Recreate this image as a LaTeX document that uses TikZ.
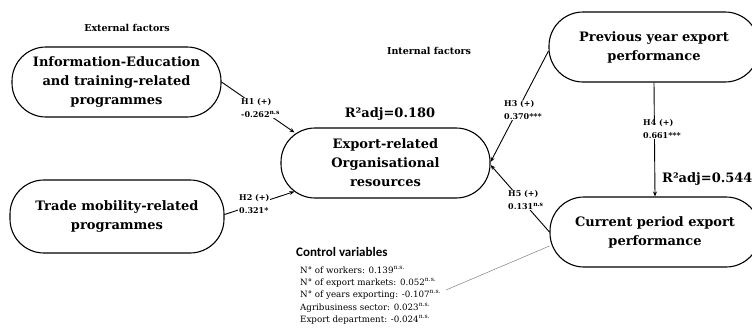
\documentclass[tikz,border=0pt]{standalone}
\usepackage{fontspec}
\setmainfont{DejaVu Serif}
\newfontfamily\ctrlfont{Carlito}
\usepackage{tikz}
\usetikzlibrary{arrows.meta, positioning, calc}

\tikzset{
  factor/.style={draw, line width=1.1pt, rounded corners=34pt, minimum width=209pt,
    minimum height=70pt, align=center, inner sep=0pt,
    font=\fontsize{13}{19}\selectfont\bfseries},
  hyp/.style={fill=white, inner sep=1pt, align=left, anchor=west,
    font=\fontsize{8}{12.5}\selectfont\bfseries},
  link/.style={line width=0.9pt, -{Stealth[length=5pt,width=4pt]}},
  ctrlitem/.style={anchor=west, inner sep=0pt, font=\fontsize{8.7}{10}\selectfont}
}

\begin{document}
\begin{tikzpicture}[x=1pt, y=-1pt]
  \useasboundingbox (0,0) rectangle (752,335);

  % constructs
  \node[factor] (info) at (116.5,82) {Information-Education\\and training-related\\programmes};
  \node[factor, minimum width=214pt, minimum height=73pt] (trade) at (117,216.5) {Trade mobility-related\\programmes};
  \node[factor] (exp) at (385.5,163) {Export-related\\Organisational\\resources};
  \node[factor, minimum width=210pt] (prev) at (654,47) {Previous year export\\performance};
  \node[factor, minimum width=210pt] (cur) at (655,232) {Current period export\\performance};

  % headings
  \node[font=\fontsize{9.5}{11}\selectfont\bfseries] (ext) at (127,28) {External factors};
  \node[font=\fontsize{9.5}{11}\selectfont\bfseries] (int) at (429,51) {Internal factors};
  \node[font=\fontsize{13}{15}\selectfont\bfseries] (r2exp) at (390,114) {R²adj=0.180};
  \node[font=\fontsize{13}{15}\selectfont\bfseries, anchor=west, inner sep=0pt] (r2cur) at (662,179) {R²adj=0.544};

  % paths
  \draw[link] (info.east) -- ([xshift=14pt,yshift=-5pt]exp.north west);
  \draw[link] ([yshift=2pt]trade.east) -- ([xshift=14pt,yshift=7pt]exp.south west);
  \draw[link] ([yshift=-4pt]prev.west) -- ([yshift=1pt]exp.east);
  \draw[link] (cur.west) -- ([yshift=-2pt]exp.east);
  \draw[link] (prev.south) -- (cur.north);

  % path coefficients
  \node[hyp] (h1) at (240,108) {H1 (+)\\-0.262\textsuperscript{n.s}};
  \node[hyp] (h2) at (238,204) {H2 (+)\\0.321*};
  \node[hyp] (h3) at (503,110) {H3 (+)\\0.370***};
  \node[hyp] (h4) at (642,129) {H4 (+)\\0.661***};
  \node[hyp] (h5) at (507,200) {H5 (+)\\0.131\textsuperscript{n.s}};

  % control variables
  \node[anchor=west, inner sep=0pt, font=\fontsize{13}{15}\ctrlfont\bfseries] (ctrltitle) at (296,252) {Control variables};
  \foreach \txt [count=\i from 0] in {%
      {N° of workers: 0.139\textsuperscript{n.s.}},
      {N° of export markets: 0.052\textsuperscript{n.s.}},
      {N° of years exporting: -0.107\textsuperscript{n.s.}},
      {Agribusiness sector: 0.023\textsuperscript{n.s.}},
      {Export department: -0.024\textsuperscript{n.s.}}}
    \node[ctrlitem] (ctrl\i) at (300,{270+12.5*\i}) {\txt};
  \coordinate (ctrlend) at (446,290);
  \draw[gray, line width=0.5pt] ([yshift=-14pt]cur.west) -- (ctrlend);
\end{tikzpicture}
\end{document}
